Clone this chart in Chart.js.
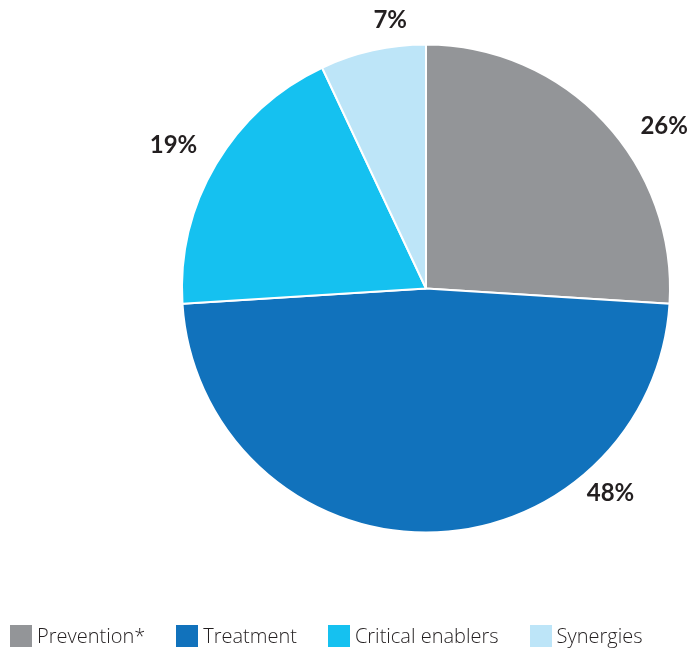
<!DOCTYPE html>
<html>
<head>
<meta charset="utf-8">
<script src="https://cdn.jsdelivr.net/npm/chart.js@4.4.0/dist/chart.umd.min.js"></script>
<style>
    html, body { margin: 0; padding: 0; background: #ffffff; }
    #wrap { position: relative; width: 691px; height: 652px; }
    #legend {
        position: absolute; left: 10px; top: 622px;
        display: flex; align-items: center;
        font-family: "Open Sans", "Lato", sans-serif; font-weight: 300;
        font-size: 20px; color: #231f20;
    }
    .item { display: flex; align-items: center; margin-right: 31px; }
    .box { width: 22px; height: 22px; margin-right: 5px; }
</style>
</head>
<body>
<div id="wrap">
    <canvas id="pieChart"></canvas>
    <div id="legend"></div>
</div>
<script>
// Chart data
const categories = ['Prevention*', 'Treatment', 'Critical enablers', 'Synergies'];
const shares = [26, 48, 19, 7];
const colors = ['#939598', '#1172bc', '#15c1f0', '#bde5f8'];

// label placement: angle nudge (deg) from slice middle, distance as radius factor
const labelNudge = [9, -42, -1, 5];
const labelDist = [1.18, 1.13, 1.19, 1.11];

// Draw percentage labels outside the slices
const outsideLabels = {
    id: 'outsideLabels',
    afterDatasetsDraw(chart) {
        const ctx = chart.ctx;
        const meta = chart.getDatasetMeta(0);
        ctx.save();
        ctx.font = 'bold 24px Lato, "Open Sans", sans-serif';
        ctx.fillStyle = '#231f20';
        ctx.textAlign = 'center';
        ctx.textBaseline = 'middle';
        meta.data.forEach(function(arc, i) {
            const mid = (arc.startAngle + arc.endAngle) / 2 + labelNudge[i] * Math.PI / 180;
            const r = arc.outerRadius * labelDist[i];
            const x = arc.x + Math.cos(mid) * r;
            const y = arc.y + Math.sin(mid) * r;
            ctx.fillText(shares[i] + '%', x, y);
        });
        ctx.restore();
    }
};

new Chart(document.getElementById('pieChart'), {
    type: 'pie',
    data: {
        labels: categories,
        datasets: [{
            data: shares,
            backgroundColor: colors,
            borderColor: '#ffffff',
            borderWidth: 2
        }]
    },
    options: {
        responsive: true,
        maintainAspectRatio: false,
        animation: false,
        layout: {
            padding: { left: 181, right: 20, top: 43, bottom: 118 }
        },
        plugins: {
            legend: { display: false },
            tooltip: { enabled: false }
        }
    },
    plugins: [outsideLabels]
});

// Legend built from the same arrays
const legend = document.getElementById('legend');
categories.forEach(function(name, i) {
    const item = document.createElement('div');
    item.className = 'item';
    const box = document.createElement('div');
    box.className = 'box';
    box.style.background = colors[i];
    const text = document.createElement('span');
    text.textContent = name;
    item.appendChild(box);
    item.appendChild(text);
    legend.appendChild(item);
});
</script>
</body>
</html>
